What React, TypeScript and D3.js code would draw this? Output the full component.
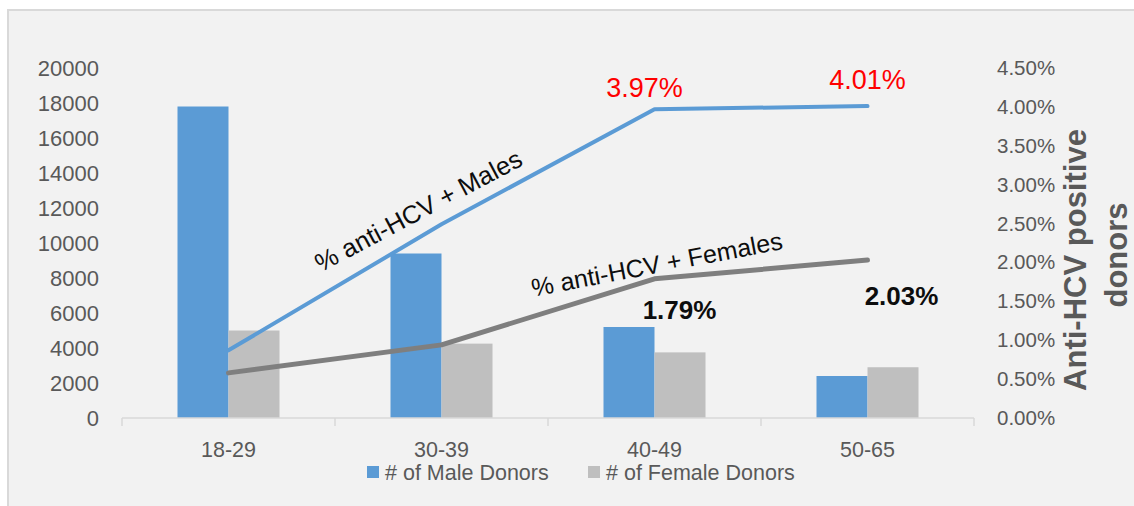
import React from "react";
import * as d3 from "d3";

const categories = ["18-29", "30-39", "40-49", "50-65"];
const maleDonors = [17800, 9400, 5200, 2400];
const femaleDonors = [5000, 4250, 3750, 2900];
const malePct = [0.87, 2.49, 3.97, 4.01];
const femalePct = [0.58, 0.94, 1.79, 2.03];
const leftTicks = [0, 2000, 4000, 6000, 8000, 10000, 12000, 14000, 16000, 18000, 20000];
const rightTicks = [0, 0.5, 1, 1.5, 2, 2.5, 3, 3.5, 4, 4.5];
const seriesNames = ["# of Male Donors", "# of Female Donors"];
const lineNames = ["% anti-HCV + Males", "% anti-HCV + Females"];

const W = 1134;
const H = 506;
const FONT = "'Liberation Sans', Arial, sans-serif";
const BLUE = "#5b9bd5";
const GRAY = "#bfbfbf";
const DGRAY = "#7f7f7f";
const TXT = "#595959";

export default function App() {
  const plotL = 122, plotR = 974, plotT = 68, plotB = 418;
  const x = d3.scaleBand<string>().domain(categories).range([plotL, plotR]).padding(0);
  const xs = d3.scaleBand<string>().domain(["m", "f"]).range([0, x.bandwidth()]).paddingInner(0).paddingOuter(1.088);
  const yL = d3.scaleLinear().domain([0, 20000]).range([plotB, plotT]);
  const yR = d3.scaleLinear().domain([0, 4.5]).range([plotB, plotT]);
  const xc = (c: string) => (x(c) as number) + x.bandwidth() / 2;

  const line = d3.line<number>().x((_, i) => xc(categories[i])).y((d) => yR(d));

  const boundaries = d3.range(categories.length + 1).map((i) => plotL + i * x.bandwidth());

  return (
    <svg width={W} height={H} style={{ position: "absolute", left: 0, top: 0, display: "block", background: "#fff" }} fontFamily={FONT}>
      <rect x={8} y={10} width={W + 10} height={H + 10} fill="#f2f2f2" stroke="#d9d9d9" strokeWidth={2} />

      {/* left axis labels */}
      {leftTicks.map((t) => (
        <text key={"l" + t} x={99} y={yL(t) + 7.5} textAnchor="end" fontSize={22} fill={TXT}>{t}</text>
      ))}
      {/* right axis labels */}
      {rightTicks.map((t) => (
        <text key={"r" + t} x={997} y={yR(t) + 7} textAnchor="start" fontSize={20.5} fill={TXT}>{t.toFixed(2) + "%"}</text>
      ))}

      {/* bars */}
      {categories.map((c, i) => (
        <g key={c}>
          <rect x={(x(c) as number) + (xs("m") as number)} y={yL(maleDonors[i])} width={xs.bandwidth()} height={plotB - yL(maleDonors[i])} fill={BLUE} />
          <rect x={(x(c) as number) + (xs("f") as number)} y={yL(femaleDonors[i])} width={xs.bandwidth()} height={plotB - yL(femaleDonors[i])} fill={GRAY} />
        </g>
      ))}

      {/* x axis */}
      <line x1={plotL} x2={plotR} y1={plotB} y2={plotB} stroke="#d9d9d9" strokeWidth={1.5} />
      {boundaries.map((b, i) => (
        <line key={"tk" + i} x1={b} x2={b} y1={plotB} y2={plotB + 8} stroke="#d9d9d9" strokeWidth={1.5} />
      ))}
      {categories.map((c) => (
        <text key={"c" + c} x={xc(c)} y={457} textAnchor="middle" fontSize={21.5} fill={TXT}>{c}</text>
      ))}

      {/* lines */}
      <path d={line(femalePct) as string} fill="none" stroke={DGRAY} strokeWidth={5} strokeLinecap="round" strokeLinejoin="round" />
      <path d={line(malePct) as string} fill="none" stroke={BLUE} strokeWidth={4} strokeLinecap="round" strokeLinejoin="round" />

      {/* line name labels */}
      <text transform={`translate(${xc(categories[1]) - 19},${yR(2.5) - 5}) rotate(-28)`} textAnchor="middle" fontSize={25.5} fill="#0d0d0d">{lineNames[0]}</text>
      <text transform={`translate(${xc(categories[2]) + 4},${yR(1.79) - 6}) rotate(-10.8)`} textAnchor="middle" fontSize={25} fill="#0d0d0d">{lineNames[1]}</text>

      {/* data labels */}
      <text x={xc(categories[2]) - 10} y={yR(malePct[2]) - 12} textAnchor="middle" fontSize={27} fill="#ff0000">{malePct[2].toFixed(2) + "%"}</text>
      <text x={xc(categories[3])} y={yR(malePct[3]) - 17} textAnchor="middle" fontSize={27} fill="#ff0000">{malePct[3].toFixed(2) + "%"}</text>
      <text x={xc(categories[2]) + 25} y={yR(femalePct[2]) + 40} textAnchor="middle" fontSize={26} fontWeight="bold" fill="#0d0d0d">{femalePct[2].toFixed(2) + "%"}</text>
      <text x={xc(categories[3]) + 34} y={yR(femalePct[3]) + 45} textAnchor="middle" fontSize={26} fontWeight="bold" fill="#0d0d0d">{femalePct[3].toFixed(2) + "%"}</text>

      {/* right axis title */}
      <text transform="translate(1086,260) rotate(-90)" textAnchor="middle" fontSize={31} fontWeight="bold" fill={TXT}>Anti-HCV positive</text>
      <text transform="translate(1127,255) rotate(-90)" textAnchor="middle" fontSize={31} fontWeight="bold" fill={TXT}>donors</text>

      {/* legend */}
      <rect x={367} y={466} width={12} height={12} fill={BLUE} />
      <text x={385} y={480} fontSize={21.5} fill={TXT}>{seriesNames[0]}</text>
      <rect x={588} y={466} width={12} height={12} fill={GRAY} />
      <text x={606} y={480} fontSize={21.5} fill={TXT}>{seriesNames[1]}</text>
    </svg>
  );
}
